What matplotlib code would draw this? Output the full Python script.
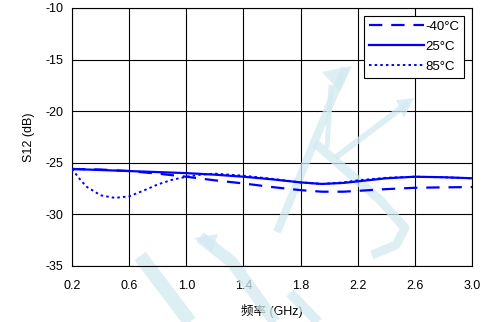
import matplotlib
matplotlib.use("Agg")
import matplotlib.pyplot as plt
from matplotlib.lines import Line2D
from matplotlib.patches import Polygon

plt.rcParams['font.family'] = ['Liberation Sans', 'Noto Sans CJK SC', 'DejaVu Sans']
plt.rcParams['axes.unicode_minus'] = False

# values
freq = [0.2, 0.4, 0.6, 0.8, 1.0, 1.2, 1.4, 1.6, 1.8, 1.95, 2.1, 2.2, 2.4, 2.6, 2.8, 3.0]
s12_m40 = [-25.6, -25.65, -25.8, -26.05, -26.35, -26.7, -27.0, -27.35, -27.65, -27.8, -27.8, -27.72, -27.55, -27.42, -27.38, -27.35]
s12_25 = [-25.6, -25.7, -25.8, -25.9, -26.0, -26.15, -26.35, -26.6, -26.9, -27.05, -26.95, -26.8, -26.5, -26.35, -26.4, -26.5]
freq85 = [0.2, 0.25, 0.3, 0.4, 0.5, 0.6, 0.7, 0.8, 0.9, 1.0, 1.1, 1.2, 1.4, 1.6, 1.8, 1.95, 2.1, 2.2, 2.4, 2.6, 2.8, 3.0]
s12_85 = [-25.6, -26.5, -27.3, -28.15, -28.4, -28.25, -27.7, -27.1, -26.65, -26.35, -26.15, -26.05, -26.25, -26.55, -26.9, -27.05, -26.9, -26.7, -26.45, -26.35, -26.4, -26.5]

xticks = [0.2, 0.6, 1.0, 1.4, 1.8, 2.2, 2.6, 3.0]
yticks = [-35, -30, -25, -20, -15, -10]

W, H = 488, 322
fig = plt.figure(figsize=(W / 100, H / 100), dpi=100)
ax = fig.add_axes([72 / W, 1 - 266 / H, 400 / W, 258 / H])

# faint watermark strokes (pixel positions of the picture), drawn under the data
wm = '#d3eaf1'
strokes = [
    ([(277, 232), (345, 68)], 8),
    ([(331, 85), (327, 148)], 5),
    ([(408, 103), (335, 158)], 6),
    ([(315, 143), (380, 200), (405, 228), (396, 245), (372, 255)], 9),
    ([(140, 256), (190, 322)], 14),
    ([(200, 237), (232, 262), (275, 322)], 12),
    ([(290, 293), (318, 322)], 10),
]
def fxy(pts):
    return [p[0] / W for p in pts], [1 - p[1] / H for p in pts]
for pts, w in strokes:
    xs, ys = fxy(pts)
    ln = Line2D(xs, ys, transform=fig.transFigure, color=wm, lw=w * 0.72,
                alpha=0.75, solid_capstyle='butt', zorder=1.8, clip_on=False)
    ax.add_artist(ln)
for tri in [[(322, 72), (352, 66), (340, 92)], [(396, 100), (414, 98), (404, 118)],
            [(194, 238), (218, 234), (212, 252)]]:
    xs, ys = fxy(tri)
    ax.add_artist(Polygon(list(zip(xs, ys)), closed=True, transform=fig.transFigure,
                          color=wm, alpha=0.75, lw=0, zorder=1.8, clip_on=False))

blue = '#0000ff'
ax.plot(freq, s12_m40, color=blue, lw=1.6, ls=(0, (6, 4)), label='-40°C', zorder=3)
ax.plot(freq, s12_25, color=blue, lw=1.6, ls='-', label='25°C', zorder=3)
ax.plot(freq85, s12_85, color=blue, lw=1.4, ls=(0, (1.3, 1.6)), label='85°C', zorder=3)

ax.set_xlim(0.2, 3.0)
ax.set_ylim(-35, -10)
ax.set_xticks(xticks)
ax.set_xticklabels(['%.1f' % v for v in xticks])
ax.set_yticks(yticks)
ax.grid(True, color='black', lw=0.8)
ax.tick_params(length=0, labelsize=9, pad=6)
ax.tick_params(axis='x', pad=10)
for s in ax.spines.values():
    s.set_linewidth(0.8)

ax.set_xlabel('频率 (GHz)', fontsize=9, labelpad=9)
ax.set_ylabel('S12 (dB)', fontsize=9, labelpad=8)

leg = ax.legend(loc='upper right', fontsize=9.5, frameon=True, fancybox=False,
                edgecolor='black', framealpha=1, handlelength=4.2, handletextpad=0.1,
                borderaxespad=0.6, labelspacing=0.6, borderpad=0.35)
leg.get_frame().set_linewidth(0.8)
leg.set_zorder(5)

fig.savefig('out.png', dpi=100)
